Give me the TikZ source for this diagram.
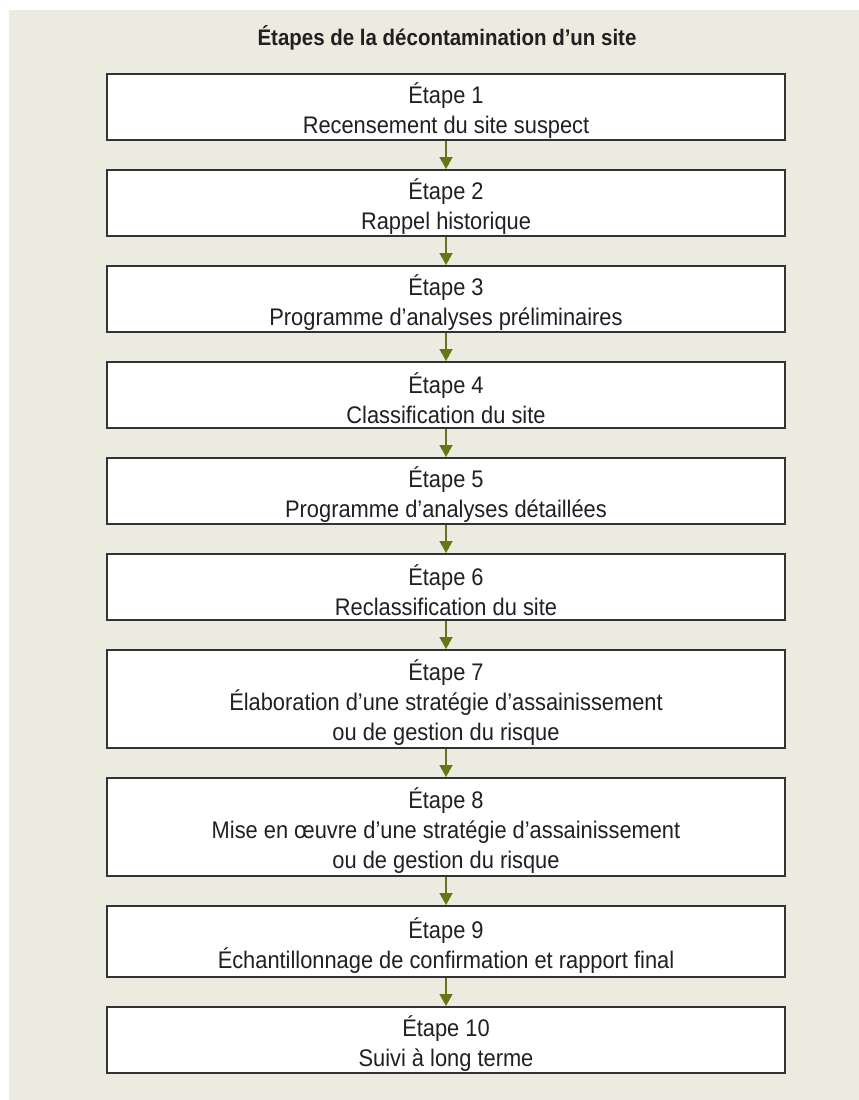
\documentclass[tikz,border=0pt]{standalone}
\usepackage{fontspec}
\setmainfont{Liberation Sans}[FakeStretch=0.91]
\usetikzlibrary{arrows.meta,positioning}

\definecolor{fond}{HTML}{EBEBDF}
\definecolor{cadre}{HTML}{333333}
\definecolor{texte}{HTML}{231F20}
\definecolor{olive}{HTML}{677517}
\newcommand{\numetape}[1]{\rule{0pt}{28pt}Étape #1}

\begin{document}
\begin{tikzpicture}[x=1pt,y=1pt,
    node distance=28pt,
    etape/.style={draw=cadre, line width=2pt, fill=white, text=texte,
      minimum width=678pt, minimum height=66pt, inner sep=0pt,
      align=center, font=\fontsize{24}{30}\selectfont},
    haute/.style={minimum height=98pt},
    fleche/.style={draw=olive, line width=1.6pt,
      -{Triangle[width=13pt,length=12pt]}}]
    \useasboundingbox (0,0) rectangle (859,-1100);
    \fill[fond] (9,-10) rectangle (859,-1100);
    \node[text=texte, font=\fontsize{22.5}{26}\selectfont\bfseries] (titre) at (447,-38)
        {Étapes de la décontamination d’un site};
    \node[etape, anchor=north] (e1) at (446,-73) {\numetape{1}\\Recensement du site suspect};
    \node[etape] (e2) [below=of e1] {\numetape{2}\\Rappel historique};
    \node[etape] (e3) [below=of e2] {\numetape{3}\\Programme d’analyses préliminaires};
    \node[etape] (e4) [below=of e3] {\numetape{4}\\Classification du site};
    \node[etape] (e5) [below=of e4] {\numetape{5}\\Programme d’analyses détaillées};
    \node[etape] (e6) [below=of e5] {\numetape{6}\\Reclassification du site};
    \node[etape, haute] (e7) [below=of e6]
        {\numetape{7}\\Élaboration d’une stratégie d’assainissement\\ou de gestion du risque};
    \node[etape, haute] (e8) [below=of e7]
        {\numetape{8}\\Mise en œuvre d’une stratégie d’assainissement\\ou de gestion du risque};
    \node[etape, minimum height=71pt] (e9) [below=of e8]
        {\numetape{9}\\Échantillonnage de confirmation et rapport final};
    \node[etape] (e10) [below=of e9] {\numetape{10}\\Suivi à long terme};
    % une fleche entre chaque etape
    \foreach \a/\b in {e1/e2,e2/e3,e3/e4,e4/e5,e5/e6,e6/e7,e7/e8,e8/e9,e9/e10}
        \draw[fleche] (\a) -- (\b);
\end{tikzpicture}
\end{document}
